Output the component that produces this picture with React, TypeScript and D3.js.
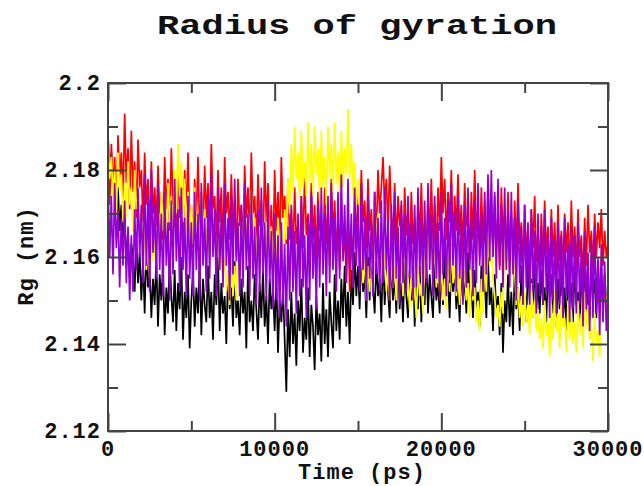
import React, { useEffect, useRef } from 'react';
import * as d3 from 'd3';

// Rg traces, one value every 100 ps from 0 to 30000 ps
const timeStep = 100;

const blackRg = [
  2.188, 2.180, 2.184, 2.175, 2.179, 2.170, 2.176, 2.166, 2.172, 2.163,
  2.169, 2.158, 2.166, 2.155, 2.163, 2.160, 2.152, 2.164, 2.154, 2.161,
  2.150, 2.159, 2.147, 2.162, 2.153, 2.158, 2.146, 2.155, 2.149, 2.160,
  2.144, 2.156, 2.150, 2.158, 2.142, 2.153, 2.147, 2.160, 2.151, 2.145,
  2.157, 2.143, 2.154, 2.148, 2.160, 2.141, 2.152, 2.146, 2.156, 2.139,
  2.150, 2.157, 2.144, 2.153, 2.147, 2.159, 2.142, 2.155, 2.149, 2.145,
  2.158, 2.146, 2.152, 2.141, 2.156, 2.149, 2.160, 2.143, 2.154, 2.147,
  2.151, 2.140, 2.157, 2.148, 2.153, 2.144, 2.159, 2.146, 2.150, 2.142,
  2.155, 2.147, 2.152, 2.139, 2.158, 2.145, 2.150, 2.143, 2.156, 2.148,
  2.141, 2.154, 2.146, 2.157, 2.144, 2.151, 2.140, 2.155, 2.148, 2.152,
  2.143, 2.156, 2.138, 2.150, 2.145, 2.153, 2.141, 2.129, 2.148, 2.137,
  2.152, 2.140, 2.147, 2.135, 2.150, 2.143, 2.155, 2.138, 2.146, 2.141,
  2.153, 2.137, 2.149, 2.144, 2.134, 2.151, 2.142, 2.147, 2.136, 2.154,
  2.140, 2.148, 2.137, 2.152, 2.145, 2.139, 2.156, 2.143, 2.150, 2.141,
  2.155, 2.146, 2.158, 2.144, 2.152, 2.140, 2.157, 2.149, 2.161, 2.151,
  2.158, 2.148, 2.162, 2.152, 2.156, 2.146, 2.160, 2.150, 2.163, 2.153,
  2.147, 2.159, 2.151, 2.155, 2.145, 2.161, 2.149, 2.157, 2.152, 2.146,
  2.160, 2.150, 2.156, 2.147, 2.162, 2.148, 2.154, 2.145, 2.159, 2.151,
  2.146, 2.157, 2.150, 2.160, 2.144, 2.153, 2.148, 2.158, 2.145, 2.155,
  2.149, 2.161, 2.147, 2.156, 2.151, 2.146, 2.159, 2.150, 2.154, 2.147,
  2.158, 2.149, 2.162, 2.151, 2.155, 2.146, 2.160, 2.152, 2.157, 2.148,
  2.153, 2.145, 2.159, 2.150, 2.156, 2.147, 2.161, 2.149, 2.154, 2.146,
  2.157, 2.148, 2.152, 2.144, 2.158, 2.150, 2.155, 2.146, 2.160, 2.149,
  2.153, 2.143, 2.156, 2.147, 2.151, 2.142, 2.154, 2.138, 2.150, 2.145,
  2.156, 2.144, 2.152, 2.142, 2.157, 2.148, 2.153, 2.143, 2.158, 2.149,
  2.151, 2.145, 2.159, 2.150, 2.155, 2.146, 2.160, 2.148, 2.154, 2.147,
  2.157, 2.149, 2.153, 2.145, 2.158, 2.151, 2.156, 2.147, 2.152, 2.144,
  2.155, 2.148, 2.159, 2.146, 2.153, 2.143, 2.157, 2.150, 2.154, 2.145,
  2.158, 2.149, 2.152, 2.144, 2.156, 2.150, 2.159, 2.147, 2.153, 2.146,
  2.157, 2.151, 2.155, 2.146, 2.159, 2.150, 2.154, 2.148, 2.156, 2.149,
  2.152,
];

const redRg = [
  2.180, 2.172, 2.186, 2.176, 2.183, 2.170, 2.188, 2.178, 2.184, 2.173,
  2.193, 2.177, 2.185, 2.171, 2.189, 2.175, 2.182, 2.169, 2.187, 2.176,
  2.180, 2.168, 2.184, 2.172, 2.178, 2.165, 2.182, 2.170, 2.176, 2.167,
  2.181, 2.170, 2.175, 2.164, 2.183, 2.171, 2.178, 2.166, 2.185, 2.172,
  2.176, 2.165, 2.182, 2.169, 2.174, 2.163, 2.180, 2.170, 2.184, 2.167,
  2.172, 2.162, 2.178, 2.168, 2.183, 2.166, 2.175, 2.164, 2.181, 2.169,
  2.177, 2.165, 2.186, 2.171, 2.174, 2.163, 2.180, 2.168, 2.176, 2.161,
  2.183, 2.170, 2.175, 2.164, 2.179, 2.166, 2.173, 2.160, 2.178, 2.167,
  2.172, 2.162, 2.181, 2.169, 2.176, 2.164, 2.184, 2.170, 2.174, 2.163,
  2.179, 2.167, 2.173, 2.161, 2.182, 2.168, 2.177, 2.165, 2.172, 2.160,
  2.180, 2.166, 2.175, 2.162, 2.183, 2.169, 2.174, 2.163, 2.178, 2.164,
  2.171, 2.160, 2.176, 2.163, 2.168, 2.158, 2.174, 2.162, 2.179, 2.165,
  2.170, 2.161, 2.177, 2.164, 2.172, 2.159, 2.175, 2.166, 2.169, 2.160,
  2.176, 2.163, 2.171, 2.158, 2.178, 2.165, 2.173, 2.161, 2.168, 2.157,
  2.172, 2.160, 2.166, 2.154, 2.170, 2.152, 2.165, 2.158, 2.174, 2.162,
  2.177, 2.164, 2.180, 2.168, 2.173, 2.162, 2.178, 2.166, 2.171, 2.160,
  2.175, 2.165, 2.180, 2.170, 2.176, 2.183, 2.172, 2.178, 2.166, 2.181,
  2.170, 2.164, 2.177, 2.162, 2.174, 2.167, 2.172, 2.160, 2.176, 2.165,
  2.171, 2.161, 2.175, 2.163, 2.169, 2.158, 2.173, 2.164, 2.177, 2.162,
  2.168, 2.160, 2.174, 2.165, 2.178, 2.163, 2.172, 2.161, 2.176, 2.166,
  2.183, 2.170, 2.178, 2.164, 2.175, 2.168, 2.180, 2.163, 2.174, 2.166,
  2.179, 2.165, 2.172, 2.161, 2.177, 2.167, 2.170, 2.159, 2.175, 2.164,
  2.180, 2.166, 2.171, 2.160, 2.176, 2.163, 2.173, 2.158, 2.178, 2.165,
  2.169, 2.160, 2.174, 2.162, 2.170, 2.157, 2.176, 2.164, 2.171, 2.159,
  2.175, 2.162, 2.169, 2.158, 2.173, 2.161, 2.177, 2.163, 2.168, 2.157,
  2.172, 2.160, 2.167, 2.156, 2.171, 2.162, 2.174, 2.159, 2.166, 2.157,
  2.170, 2.158, 2.173, 2.161, 2.167, 2.155, 2.171, 2.160, 2.168, 2.156,
  2.172, 2.159, 2.166, 2.157, 2.170, 2.161, 2.168, 2.155, 2.173, 2.160,
  2.167, 2.156, 2.171, 2.160, 2.165, 2.154, 2.169, 2.158, 2.172, 2.161,
  2.166, 2.157, 2.170, 2.160, 2.168, 2.162, 2.171, 2.158, 2.166, 2.160,
  2.163,
];

const yellowRg = [
  2.188, 2.178, 2.183, 2.174, 2.180, 2.170, 2.184, 2.175, 2.179, 2.168,
  2.177, 2.169, 2.182, 2.172, 2.176, 2.166, 2.180, 2.171, 2.174, 2.165,
  2.170, 2.160, 2.166, 2.157, 2.163, 2.155, 2.168, 2.159, 2.164, 2.158,
  2.170, 2.162, 2.175, 2.166, 2.172, 2.163, 2.177, 2.168, 2.174, 2.165,
  2.180, 2.170, 2.186, 2.174, 2.182, 2.168, 2.178, 2.166, 2.175, 2.164,
  2.172, 2.163, 2.176, 2.167, 2.170, 2.160, 2.174, 2.165, 2.171, 2.162,
  2.169, 2.161, 2.172, 2.164, 2.168, 2.159, 2.166, 2.157, 2.163, 2.155,
  2.160, 2.152, 2.157, 2.149, 2.162, 2.151, 2.158, 2.150, 2.164, 2.155,
  2.168, 2.160, 2.173, 2.163, 2.170, 2.161, 2.175, 2.165, 2.169, 2.160,
  2.166, 2.158, 2.171, 2.162, 2.168, 2.160, 2.172, 2.163, 2.167, 2.159,
  2.165, 2.158, 2.169, 2.161, 2.166, 2.157, 2.171, 2.164, 2.178, 2.170,
  2.186, 2.175, 2.190, 2.178, 2.184, 2.173, 2.189, 2.176, 2.182, 2.174,
  2.191, 2.177, 2.186, 2.174, 2.190, 2.179, 2.185, 2.173, 2.189, 2.176,
  2.183, 2.172, 2.190, 2.178, 2.186, 2.175, 2.191, 2.177, 2.184, 2.173,
  2.189, 2.176, 2.185, 2.179, 2.194, 2.178, 2.186, 2.174, 2.182, 2.172,
  2.178, 2.168, 2.162, 2.154, 2.160, 2.150, 2.158, 2.152, 2.163, 2.155,
  2.172, 2.164, 2.170, 2.162, 2.166, 2.158, 2.161, 2.152, 2.157, 2.150,
  2.160, 2.153, 2.158, 2.150, 2.162, 2.155, 2.159, 2.151, 2.164, 2.156,
  2.155, 2.148, 2.157, 2.150, 2.153, 2.146, 2.158, 2.151, 2.154, 2.147,
  2.161, 2.155, 2.167, 2.159, 2.165, 2.157, 2.162, 2.153, 2.160, 2.152,
  2.158, 2.150, 2.155, 2.148, 2.160, 2.152, 2.163, 2.154, 2.158, 2.151,
  2.156, 2.149, 2.161, 2.153, 2.157, 2.150, 2.154, 2.146, 2.158, 2.150,
  2.153, 2.145, 2.150, 2.143, 2.155, 2.147, 2.160, 2.152, 2.166, 2.158,
  2.163, 2.155, 2.151, 2.146, 2.149, 2.144, 2.152, 2.147, 2.166, 2.158,
  2.163, 2.156, 2.168, 2.160, 2.157, 2.149, 2.153, 2.146, 2.151, 2.144,
  2.152, 2.145, 2.149, 2.142, 2.154, 2.146, 2.150, 2.143, 2.148, 2.141,
  2.146, 2.139, 2.150, 2.142, 2.145, 2.137, 2.149, 2.141, 2.152, 2.143,
  2.147, 2.139, 2.151, 2.144, 2.146, 2.138, 2.150, 2.141, 2.148, 2.140,
  2.145, 2.138, 2.150, 2.142, 2.147, 2.139, 2.152, 2.144, 2.149, 2.141,
  2.144, 2.136, 2.147, 2.140, 2.143, 2.137, 2.150, 2.145, 2.155, 2.148,
  2.152,
];

const purpleRg = [
  2.178, 2.160, 2.174, 2.156, 2.177, 2.162, 2.171, 2.153, 2.169, 2.158,
  2.173, 2.154, 2.167, 2.150, 2.165, 2.152, 2.171, 2.157, 2.176, 2.160,
  2.172, 2.154, 2.179, 2.158, 2.174, 2.152, 2.180, 2.161, 2.172, 2.155,
  2.177, 2.157, 2.170, 2.151, 2.175, 2.158, 2.168, 2.150, 2.173, 2.156,
  2.178, 2.159, 2.171, 2.152, 2.176, 2.157, 2.169, 2.151, 2.174, 2.155,
  2.168, 2.151, 2.175, 2.157, 2.170, 2.150, 2.177, 2.158, 2.169, 2.152,
  2.174, 2.155, 2.179, 2.160, 2.171, 2.151, 2.176, 2.157, 2.170, 2.153,
  2.177, 2.158, 2.169, 2.150, 2.174, 2.156, 2.178, 2.159, 2.168, 2.151,
  2.172, 2.153, 2.177, 2.157, 2.170, 2.151, 2.175, 2.155, 2.167, 2.149,
  2.171, 2.152, 2.176, 2.156, 2.168, 2.150, 2.173, 2.154, 2.166, 2.148,
  2.170, 2.150, 2.165, 2.146, 2.168, 2.149, 2.163, 2.144, 2.167, 2.150,
  2.172, 2.152, 2.166, 2.147, 2.170, 2.151, 2.174, 2.153, 2.165, 2.146,
  2.169, 2.150, 2.175, 2.155, 2.167, 2.148, 2.172, 2.153, 2.176, 2.156,
  2.170, 2.151, 2.174, 2.154, 2.177, 2.157, 2.169, 2.152, 2.175, 2.155,
  2.179, 2.159, 2.172, 2.154, 2.178, 2.157, 2.170, 2.153, 2.176, 2.158,
  2.172, 2.152, 2.177, 2.157, 2.169, 2.150, 2.174, 2.155, 2.168, 2.151,
  2.175, 2.156, 2.169, 2.152, 2.173, 2.154, 2.176, 2.157, 2.168, 2.150,
  2.172, 2.153, 2.175, 2.155, 2.167, 2.149, 2.173, 2.154, 2.170, 2.152,
  2.174, 2.155, 2.168, 2.150, 2.172, 2.153, 2.176, 2.156, 2.169, 2.151,
  2.173, 2.154, 2.177, 2.157, 2.170, 2.151, 2.174, 2.155, 2.168, 2.150,
  2.175, 2.156, 2.169, 2.151, 2.173, 2.154, 2.177, 2.158, 2.170, 2.152,
  2.174, 2.155, 2.168, 2.149, 2.172, 2.153, 2.176, 2.157, 2.169, 2.151,
  2.173, 2.154, 2.177, 2.158, 2.170, 2.152, 2.175, 2.156, 2.179, 2.159,
  2.180, 2.160, 2.175, 2.155, 2.178, 2.158, 2.172, 2.153, 2.176, 2.157,
  2.171, 2.153, 2.175, 2.156, 2.169, 2.150, 2.173, 2.154, 2.167, 2.149,
  2.172, 2.153, 2.168, 2.149, 2.171, 2.152, 2.166, 2.147, 2.170, 2.151,
  2.167, 2.149, 2.171, 2.152, 2.165, 2.146, 2.169, 2.150, 2.164, 2.147,
  2.168, 2.149, 2.165, 2.146, 2.169, 2.151, 2.163, 2.145, 2.167, 2.148,
  2.165, 2.147, 2.168, 2.149, 2.162, 2.144, 2.166, 2.148, 2.161, 2.143,
  2.164, 2.146, 2.167, 2.147, 2.160, 2.142, 2.163, 2.145, 2.159, 2.143,
  2.152,
];

// drawn in this order, violet ends up on top
const seriesList = [
  { values: blackRg, color: '#000000' },
  { values: redRg, color: '#ff0000' },
  { values: yellowRg, color: '#ffff00' },
  { values: purpleRg, color: '#9400d3' },
];

const xMajorTicks = [0, 10000, 20000, 30000];
const xMinorTicks = [5000, 15000, 25000];
const yMajorTicks = [2.12, 2.14, 2.16, 2.18, 2.2];
const yMinorTicks = [2.13, 2.15, 2.17, 2.19];

const FONT = '"Liberation Mono", "Courier New", monospace';

export default function App() {
  const svgRef = useRef<SVGSVGElement>(null);

  useEffect(() => {
    if (!svgRef.current) return;
    const width = 644;
    const height = 486;
    const margin = { top: 83, right: 36, bottom: 55, left: 108 };

    const svg = d3.select(svgRef.current);
    svg.selectAll('*').remove();

    const x = d3.scaleLinear().domain([0, 30000]).range([margin.left, width - margin.right]);
    const y = d3.scaleLinear().domain([2.12, 2.2]).range([height - margin.bottom, margin.top]);

    const line = d3.line<number>()
      .x((_, i) => x(i * timeStep))
      .y(d => y(d));

    const clipId = 'plot-clip';
    svg.append('clipPath').attr('id', clipId)
      .append('rect')
      .attr('x', x(0)).attr('y', y(2.2))
      .attr('width', x(30000) - x(0)).attr('height', y(2.12) - y(2.2));

    const plot = svg.append('g').attr('clip-path', `url(#${clipId})`);
    seriesList.forEach(s => {
      plot.append('path')
        .datum(s.values)
        .attr('fill', 'none')
        .attr('stroke', s.color)
        .attr('stroke-width', 1.7)
        .attr('d', line);
    });

    const axisColor = '#444';
    const styleAxis = (g: any) => {
      g.select('.domain').remove();
      g.selectAll('.tick line').attr('stroke', axisColor).attr('stroke-width', 2);
    };

    // frame
    svg.append('rect')
      .attr('x', x(0)).attr('y', y(2.2))
      .attr('width', x(30000) - x(0)).attr('height', y(2.12) - y(2.2))
      .attr('fill', 'none').attr('stroke', axisColor).attr('stroke-width', 2);

    // ticks on all four sides, pointing inward
    const addTicks = (axis: any, transform: string) => {
      svg.append('g').attr('transform', transform).call(axis.tickFormat(() => '')).call(styleAxis);
    };
    addTicks(d3.axisBottom(x).tickValues(xMajorTicks).tickSize(-18), `translate(0,${y(2.12)})`);
    addTicks(d3.axisBottom(x).tickValues(xMinorTicks).tickSize(-10), `translate(0,${y(2.12)})`);
    addTicks(d3.axisTop(x).tickValues(xMajorTicks).tickSize(-18), `translate(0,${y(2.2)})`);
    addTicks(d3.axisTop(x).tickValues(xMinorTicks).tickSize(-10), `translate(0,${y(2.2)})`);
    addTicks(d3.axisLeft(y).tickValues(yMajorTicks).tickSize(-18), `translate(${x(0)},0)`);
    addTicks(d3.axisLeft(y).tickValues(yMinorTicks).tickSize(-10), `translate(${x(0)},0)`);
    addTicks(d3.axisRight(y).tickValues(yMajorTicks).tickSize(-18), `translate(${x(30000)},0)`);
    addTicks(d3.axisRight(y).tickValues(yMinorTicks).tickSize(-10), `translate(${x(30000)},0)`);

    const labelStyle = (t: any) => t
      .attr('font-family', FONT)
      .attr('font-weight', 'bold')
      .attr('font-size', 22)
      .attr('letter-spacing', 1)
      .attr('fill', '#111');

    // tick labels
    svg.append('g').selectAll('text')
      .data(xMajorTicks)
      .enter().append('text')
      .attr('x', d => x(d))
      .attr('y', 456)
      .attr('text-anchor', 'middle')
      .text(d => String(d))
      .call(labelStyle);

    svg.append('g').selectAll('text')
      .data(yMajorTicks)
      .enter().append('text')
      .attr('x', 101)
      .attr('y', d => y(d) + 7)
      .attr('text-anchor', 'end')
      .text(d => d3.format('')(d))
      .call(labelStyle);

    // axis titles
    svg.append('text')
      .attr('x', 362)
      .attr('y', 479)
      .attr('text-anchor', 'middle')
      .text('Time (ps)')
      .call(labelStyle);

    svg.append('text')
      .attr('transform', `translate(33,${256}) rotate(-90)`)
      .attr('text-anchor', 'middle')
      .text('Rg (nm)')
      .call(labelStyle);

    svg.append('text')
      .attr('x', 157)
      .attr('y', 34)
      .attr('textLength', 400)
      .attr('lengthAdjust', 'spacingAndGlyphs')
      .attr('font-family', FONT)
      .attr('font-weight', 'bold')
      .attr('font-size', 27)
      .attr('fill', '#111')
      .text('Radius of gyration');
  }, []);

  return (
    <svg
      ref={svgRef}
      width={644}
      height={486}
      style={{ position: 'absolute', left: 0, top: 0, background: '#fff' }}
    />
  );
}
